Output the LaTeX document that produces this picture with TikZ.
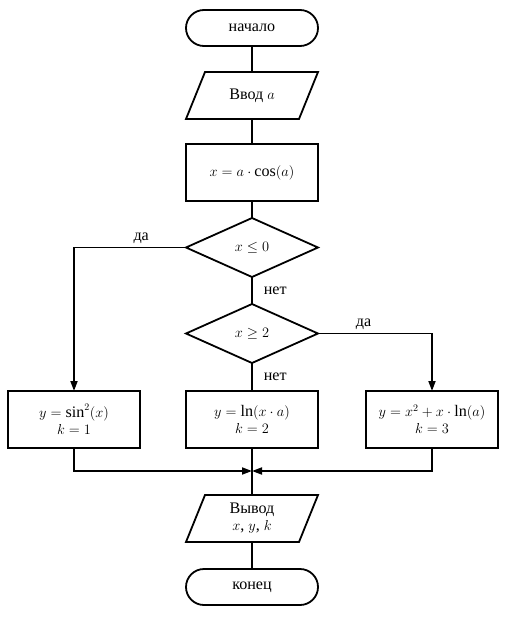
\documentclass[tikz,border=0pt]{standalone}
\usepackage{fontspec}
\setmainfont{Liberation Serif}[Scale=1.15]
\usetikzlibrary{shapes.geometric, shapes.misc, arrows.meta, positioning}

\begin{document}
\begin{tikzpicture}[
        x=1pt, y=1pt,
        node distance=26pt and 46pt,
        % Styles
        every node/.style={font=\fontsize{14}{17}\selectfont, outer sep=0pt},
        terminal/.style={
            rounded rectangle, draw, line width=1.8pt,
            minimum width=132pt, minimum height=36pt, inner sep=0pt
        },
        io/.style={
            rectangle, minimum width=113pt, minimum height=47pt,
            align=center, inner sep=0pt,
            append after command={
                \pgfextra{\draw[line width=1.8pt, line join=miter]
                    ([xshift=-9.5pt]\tikzlastnode.south west) --
                    ([xshift=9.5pt]\tikzlastnode.north west) --
                    ([xshift=9.5pt]\tikzlastnode.north east) --
                    ([xshift=-9.5pt]\tikzlastnode.south east) -- cycle;}
            }
        },
        process/.style={
            rectangle, draw, line width=1.8pt,
            minimum width=132pt, minimum height=57pt, align=center
        },
        decision/.style={
            diamond, aspect=2.2, draw, line width=1.8pt,
            minimum width=132pt, minimum height=59pt, inner sep=0pt
        },
        line/.style={draw, line width=1.8pt},
        arrow/.style={line, -{Triangle[length=10pt, width=7pt]}}
    ]
        \useasboundingbox (0,0) rectangle (506,-618);

        % Main column
        \node[terminal] (start) at (252,-28) {начало};
        \node[io, below=26pt of start] (input) {Ввод $a$};
        \node[process, below=25pt of input] (calc) {$x = a\cdot\cos(a)$};
        \node[decision, below=17pt of calc] (cond1) {$x \le 0$};
        \node[decision, below=27pt of cond1] (cond2) {$x \ge 2$};

        % Branches
        \node[process, below=28pt of cond2] (case2) {$y = \ln(x\cdot a)$\\$k = 2$};
        \node[process, left=of case2] (case1) {$y = \sin^2(x)$\\$k = 1$};
        \node[process, right=48pt of case2] (case3) {$y = x^2 + x\cdot\ln(a)$\\$k = 3$};
        \coordinate[below=23pt of case2] (join);

        % Output
        \node[io, below=47pt of case2] (output) {Вывод\\$x$, $y$, $k$};
        \node[terminal, below=27pt of output] (stop) {конец};

        % Connections
        \draw[line] (start) -- (input);
        \draw[line] (input) -- (calc);
        \draw[line] (calc) -- (cond1);
        \draw[arrow] (cond1.west) -| node[pos=0.2, above] {да} (case1.north);
        \draw[line] (cond1.south) -- node[right, xshift=8pt] {нет} (cond2.north);
        \draw[arrow] (cond2.east) -| node[pos=0.2, above] {да} (case3.north);
        \draw[line] (cond2.south) -- node[right, xshift=8pt] {нет} (case2.north);

        % Merge
        \draw[arrow] (case1.south) |- (join);
        \draw[arrow] (case3.south) |- (join);
        \draw[line] (case2) -- (output);
        \draw[line] (output) -- (stop);

    \end{tikzpicture}
\end{document}
